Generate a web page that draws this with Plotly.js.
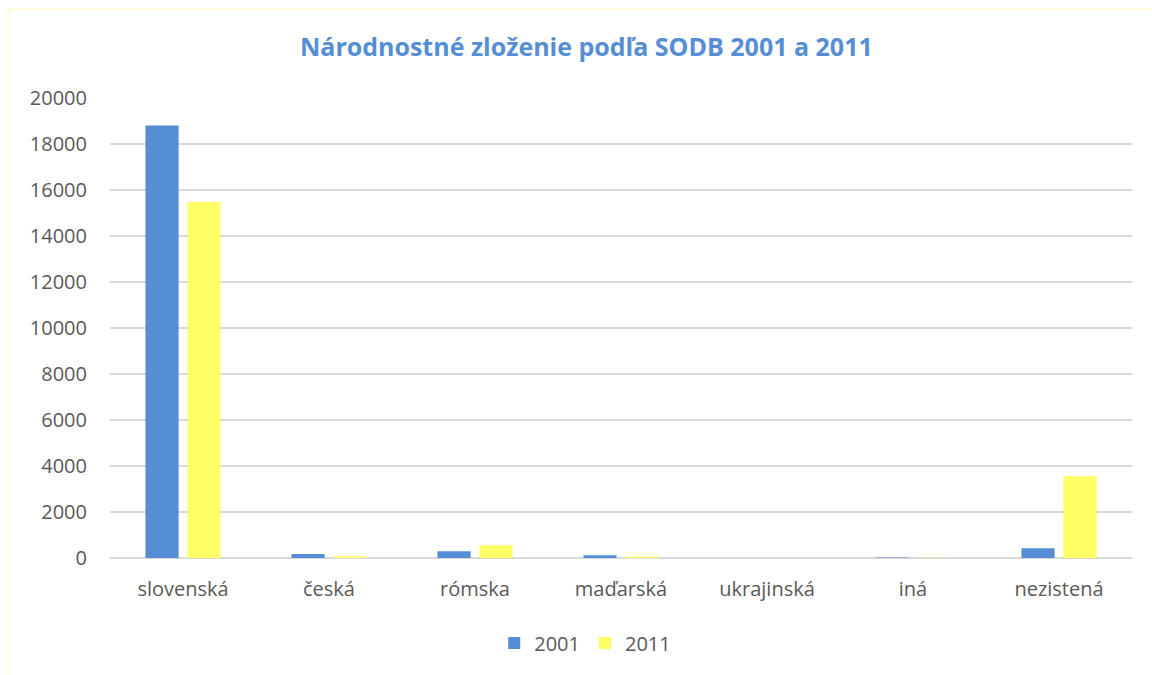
<!DOCTYPE html>
<html>
<head>
<meta charset="utf-8">
<script src="https://cdn.plot.ly/plotly-3.0.1.min.js"></script>
<style>
  html, body { margin: 0; padding: 0; background: #fff; }
  #wrap { position: relative; width: 1152px; height: 675px; }
  #chart { width: 1152px; height: 675px; }
  #frame { position: absolute; left: 9px; top: 9px; width: 1160px; height: 680px;
           border-left: 1.5px solid #FFFFB0; border-top: 1.5px solid #FFFFB0; pointer-events: none; }
</style>
</head>
<body>
<div id="wrap"><div id="chart"></div><div id="frame"></div></div>
<script>
const categories = ["slovenská", "česká", "rómska", "maďarská", "ukrajinská", "iná", "nezistená"];
const series2001 = [18800, 175, 290, 120, 5, 25, 420];
const series2011 = [15480, 75, 550, 60, 3, 12, 3550];
const yTicks = [0, 2000, 4000, 6000, 8000, 10000, 12000, 14000, 16000, 18000, 20000];

const FONT = "'Open Sans', Lato, sans-serif";

const data = [
  { type: "bar", name: "2001", x: categories, y: series2001, marker: { color: "#558ED5" } },
  { type: "bar", name: "2011", x: categories, y: series2011, marker: { color: "#FFFF66" } }
];

const layout = {
  width: 1152, height: 675,
  paper_bgcolor: "#ffffff", plot_bgcolor: "#ffffff",
  font: { family: FONT, size: 20, color: "#595959" },
  margin: { l: 110, r: 20, t: 98, b: 117 },
  title: {
    text: "<b>Národnostné zloženie podľa SODB 2001 a 2011</b>",
    font: { family: FONT, size: 25, color: "#558ED5" },
    x: 0.509, xanchor: "center", y: 0.93, yanchor: "middle"
  },
  barmode: "group",
  bargap: 0.425,
  bargroupgap: 0.21,
  xaxis: {
    type: "category",
    showgrid: false, zeroline: false, showline: false,
    ticks: "", ticklabelstandoff: 17,
    tickfont: { family: FONT, size: 20, color: "#595959" }
  },
  yaxis: {
    range: [0, 20000],
    tickvals: yTicks, ticktext: yTicks.map(String),
    showgrid: true, gridcolor: "#D9D9D9", gridwidth: 1.3,
    zeroline: true, zerolinecolor: "#D9D9D9", zerolinewidth: 1.3,
    showline: false, ticks: "", ticklabelstandoff: 22,
    tickfont: { family: FONT, size: 20, color: "#595959" }
  },
  showlegend: true,
  legend: {
    orientation: "h", x: 0.465, xanchor: "center", y: -0.185, yanchor: "middle",
    font: { family: FONT, size: 20, color: "#595959" },
    itemwidth: 30, traceorder: "normal"
  }
};

Plotly.newPlot("chart", data, layout, { displayModeBar: false, staticPlot: true });
</script>
</body>
</html>
